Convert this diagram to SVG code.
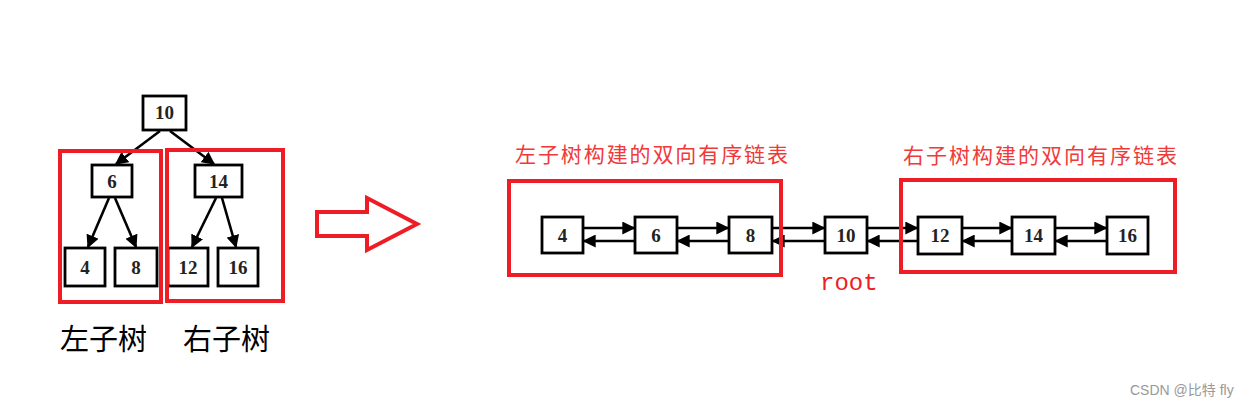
<svg xmlns="http://www.w3.org/2000/svg" width="1257" height="409" viewBox="0 0 1257 409">
<style>
.nb{fill:#fff;stroke:#000;stroke-width:2.8}
.nt{font-family:"Liberation Serif",serif;font-size:19px;font-weight:bold;fill:#222;text-anchor:middle}
.ln{stroke:#000;stroke-width:2.6;fill:none}
.rb{fill:none;stroke:#ee1c25;stroke-width:4}
.rt{font-family:"Noto Sans CJK SC",sans-serif;font-size:21px;fill:#f03a3a}
.bt{font-family:"Noto Sans CJK SC",serif;font-size:29px;fill:#000}
</style>
<defs>
<marker id="ah" viewBox="0 0 10 10" refX="9" refY="5" markerWidth="5" markerHeight="5" orient="auto" markerUnits="strokeWidth">
<path d="M0,0 L10,5 L0,10 Z" fill="#000"/>
</marker>
</defs>
<g id="connectors">
<line class="ln" x1="160" y1="131" x2="116" y2="164" marker-end="url(#ah)"/>
<line class="ln" x1="170" y1="131" x2="214" y2="164" marker-end="url(#ah)"/>
<line class="ln" x1="109" y1="198" x2="88" y2="247" marker-end="url(#ah)"/>
<line class="ln" x1="115" y1="198" x2="136" y2="247" marker-end="url(#ah)"/>
<line class="ln" x1="216" y1="198" x2="192" y2="247" marker-end="url(#ah)"/>
<line class="ln" x1="222" y1="198" x2="236" y2="247" marker-end="url(#ah)"/>
<line class="ln" x1="584" y1="228" x2="634" y2="228" marker-end="url(#ah)"/>
<line class="ln" x1="634" y1="241" x2="584" y2="241" marker-end="url(#ah)"/>
<line class="ln" x1="678" y1="228" x2="728" y2="228" marker-end="url(#ah)"/>
<line class="ln" x1="728" y1="241" x2="678" y2="241" marker-end="url(#ah)"/>
<line class="ln" x1="773" y1="228" x2="824" y2="228" marker-end="url(#ah)"/>
<line class="ln" x1="824" y1="241" x2="773" y2="241" marker-end="url(#ah)"/>
<line class="ln" x1="868" y1="228" x2="917" y2="228" marker-end="url(#ah)"/>
<line class="ln" x1="917" y1="241" x2="868" y2="241" marker-end="url(#ah)"/>
<line class="ln" x1="963" y1="228" x2="1011" y2="228" marker-end="url(#ah)"/>
<line class="ln" x1="1011" y1="241" x2="963" y2="241" marker-end="url(#ah)"/>
<line class="ln" x1="1056" y1="228" x2="1106" y2="228" marker-end="url(#ah)"/>
<line class="ln" x1="1106" y1="241" x2="1056" y2="241" marker-end="url(#ah)"/>
</g>
<g id="t10"><rect class="nb" x="143" y="96" width="43" height="34"/><text class="nt" x="164.5" y="119">10</text></g>
<g id="t6"><rect class="nb" x="92" y="165" width="40" height="32"/><text class="nt" x="112" y="188">6</text></g>
<g id="t14"><rect class="nb" x="195" y="165" width="47" height="32"/><text class="nt" x="218.5" y="188">14</text></g>
<g id="t4"><rect class="nb" x="65" y="248" width="40" height="38"/><text class="nt" x="85" y="274">4</text></g>
<g id="t8"><rect class="nb" x="115" y="248" width="42" height="38"/><text class="nt" x="136" y="274">8</text></g>
<g id="t12"><rect class="nb" x="168" y="248" width="40" height="38"/><text class="nt" x="188" y="274">12</text></g>
<g id="t16"><rect class="nb" x="218" y="248" width="40" height="38"/><text class="nt" x="238" y="274">16</text></g>
<g id="leftTreeBox"><rect class="rb" x="60" y="151" width="101" height="151"/></g>
<g id="rightTreeBox"><rect class="rb" x="167" y="150" width="116" height="151"/></g>
<g id="leftLabel"><text class="bt" x="60" y="350">左子树</text></g>
<g id="rightLabel"><text class="bt" x="183" y="350">右子树</text></g>
<g id="bigArrow"><polygon points="317,212 367,212 367,198 417,224 367,250 367,236 317,236" fill="none" stroke="#ee1c25" stroke-width="4" stroke-linejoin="miter"/></g>
<g id="l4"><rect class="nb" x="542" y="217" width="41" height="36"/><text class="nt" x="562.5" y="242">4</text></g>
<g id="l6"><rect class="nb" x="635" y="217" width="42" height="36"/><text class="nt" x="656" y="242">6</text></g>
<g id="l8"><rect class="nb" x="729" y="217" width="43" height="36"/><text class="nt" x="750.5" y="242">8</text></g>
<g id="l10"><rect class="nb" x="825" y="217" width="42" height="36"/><text class="nt" x="846" y="242">10</text></g>
<g id="l12"><rect class="nb" x="918" y="217" width="44" height="37"/><text class="nt" x="940" y="242">12</text></g>
<g id="l14"><rect class="nb" x="1012" y="217" width="43" height="37"/><text class="nt" x="1033.5" y="242">14</text></g>
<g id="l16"><rect class="nb" x="1107" y="217" width="41" height="37"/><text class="nt" x="1127.5" y="242">16</text></g>
<g id="leftListBox"><rect class="rb" x="509" y="181" width="272" height="94"/><text class="rt" x="515" y="162" textLength="273">左子树构建的双向有序链表</text></g>
<g id="rightListBox"><rect class="rb" x="901" y="180" width="274" height="92"/><text class="rt" x="903" y="163" textLength="274">右子树构建的双向有序链表</text></g>
<g id="rootLabel"><text x="820" y="290" font-family="Liberation Mono,monospace" font-size="24" fill="#ee1c25">root</text></g>
<text x="1130" y="395" font-family="Liberation Sans,Noto Sans CJK SC,sans-serif" font-size="14" fill="#999">CSDN @比特 fly</text>
</svg>
